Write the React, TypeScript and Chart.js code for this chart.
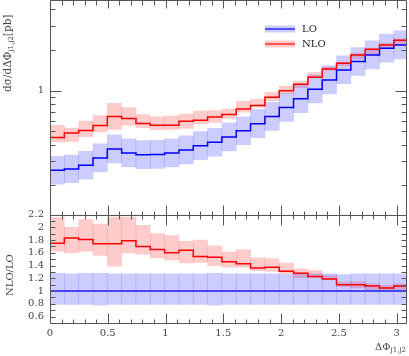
import React, { useEffect, useRef } from 'react';
import { Chart, registerables } from 'chart.js';
Chart.register(...registerables);

const binEdges = [0, 0.124, 0.248, 0.372, 0.496, 0.62, 0.744, 0.868, 0.992, 1.116, 1.24, 1.364, 1.488, 1.612, 1.736, 1.86, 1.984, 2.108, 2.232, 2.356, 2.48, 2.604, 2.728, 2.852, 2.976, 3.1];

const loValues = [0.258, 0.264, 0.281, 0.318, 0.371, 0.347, 0.337, 0.338, 0.347, 0.365, 0.392, 0.415, 0.454, 0.505, 0.569, 0.644, 0.750, 0.869, 1.024, 1.198, 1.420, 1.634, 1.830, 2.050, 2.168];
const loUp = [0.328, 0.335, 0.357, 0.404, 0.471, 0.441, 0.428, 0.429, 0.441, 0.464, 0.498, 0.527, 0.577, 0.641, 0.723, 0.818, 0.953, 1.104, 1.300, 1.521, 1.803, 2.075, 2.324, 2.604, 2.753];
const loDown = [0.204, 0.209, 0.222, 0.251, 0.293, 0.274, 0.266, 0.267, 0.274, 0.288, 0.310, 0.328, 0.359, 0.399, 0.450, 0.509, 0.593, 0.687, 0.809, 0.946, 1.122, 1.291, 1.446, 1.620, 1.713];

const nloValues = [0.451, 0.486, 0.508, 0.553, 0.644, 0.623, 0.572, 0.556, 0.556, 0.594, 0.605, 0.637, 0.666, 0.730, 0.776, 0.894, 0.995, 1.115, 1.254, 1.444, 1.591, 1.830, 2.016, 2.168, 2.349];
const nloUp = [0.554, 0.528, 0.596, 0.653, 0.804, 0.748, 0.665, 0.640, 0.648, 0.670, 0.706, 0.711, 0.731, 0.832, 0.865, 0.970, 1.078, 1.173, 1.355, 1.492, 1.619, 1.879, 2.040, 2.235, 2.417];
const nloDown = [0.419, 0.422, 0.457, 0.495, 0.516, 0.555, 0.532, 0.514, 0.517, 0.526, 0.568, 0.581, 0.624, 0.694, 0.753, 0.842, 0.953, 1.051, 1.238, 1.411, 1.524, 1.721, 1.848, 2.050, 2.211];

const ratioLO = [1, 1, 1, 1, 1, 1, 1, 1, 1, 1, 1, 1, 1, 1, 1, 1, 1, 1, 1, 1, 1, 1, 1, 1, 1];
const ratioLOUp = [1.28, 1.27, 1.28, 1.28, 1.27, 1.27, 1.27, 1.27, 1.27, 1.27, 1.27, 1.28, 1.27, 1.27, 1.27, 1.27, 1.26, 1.27, 1.27, 1.27, 1.26, 1.27, 1.27, 1.27, 1.27];
const ratioLODown = [0.79, 0.79, 0.79, 0.78, 0.79, 0.79, 0.79, 0.79, 0.79, 0.79, 0.79, 0.78, 0.79, 0.79, 0.79, 0.79, 0.79, 0.79, 0.79, 0.79, 0.79, 0.79, 0.79, 0.79, 0.79];

const ratioNLO = [1.75, 1.83, 1.81, 1.74, 1.74, 1.79, 1.70, 1.65, 1.60, 1.64, 1.54, 1.53, 1.46, 1.43, 1.36, 1.375, 1.31, 1.28, 1.23, 1.19, 1.10, 1.10, 1.08, 1.05, 1.08];
const ratioNLOUp = [2.15, 2.00, 2.12, 2.05, 2.16, 2.16, 2.03, 1.90, 1.87, 1.78, 1.80, 1.71, 1.61, 1.65, 1.52, 1.51, 1.44, 1.35, 1.32, 1.245, 1.14, 1.15, 1.115, 1.09, 1.115];
const ratioNLODown = [1.625, 1.60, 1.625, 1.56, 1.39, 1.60, 1.58, 1.52, 1.49, 1.44, 1.45, 1.40, 1.375, 1.375, 1.32, 1.31, 1.27, 1.21, 1.21, 1.18, 1.07, 1.05, 1.01, 1.00, 1.02];

const xTickLabels = [0, 0.5, 1, 1.5, 2, 2.5, 3];
const ratioTickLabels = [0.6, 0.8, 1, 1.2, 1.4, 1.6, 1.8, 2, 2.2];
const logTickLabels = [1];
const logMinorTicks = [0.2, 0.3, 0.4, 0.5, 0.6, 0.7, 0.8, 0.9, 2, 3, 4];
const legendLabels = ['LO', 'NLO'];

const FONT = 'DejaVu Serif';
const AXIS = '#555';
const TEXT = '#444';
const BLUE = 'rgb(0,0,255)';
const RED = 'rgb(255,0,0)';
const BLUE_BAND = 'rgba(0,0,255,0.2)';
const RED_BAND = 'rgba(255,0,0,0.2)';

const centers = binEdges.slice(0, -1).map((e, i) => (e + binEdges[i + 1]) / 2);
const stepPoints = (vals: number[]) => binEdges.map((e, i) => ({ x: e, y: vals[Math.min(i, vals.length - 1)] }));
const bandPoints = (lo: number[], hi: number[]) => centers.map((c, i) => ({ x: c, y: [lo[i], hi[i]] }));

const lineDs = (label: string, vals: number[], color: string, axis: string, order: number, width = 1.5) => ({
  type: 'line' as const,
  label,
  data: stepPoints(vals),
  yAxisID: axis,
  borderColor: color,
  borderWidth: width,
  stepped: true,
  pointRadius: 0,
  fill: false,
  order,
});
const bandDs = (label: string, lo: number[], hi: number[], color: string, axis: string, order: number) => ({
  type: 'bar' as const,
  label,
  data: bandPoints(lo, hi),
  yAxisID: axis,
  backgroundColor: color,
  borderWidth: 0,
  barPercentage: 1,
  categoryPercentage: 1,
  grouped: false,
  order,
});

const crisp = (v: number) => Math.round(v) + 0.5;

const zeroPad = (s: any) => {
  s.paddingTop = 0;
  s.paddingBottom = 0;
  s.paddingLeft = 0;
  s.paddingRight = 0;
};

const decorPlugin = {
  id: 'decor',
  afterDraw(chart: any) {
    const ctx = chart.ctx as CanvasRenderingContext2D;
    const x = chart.scales.x;
    const y = chart.scales.y;
    const yr = chart.scales.yr;
    const L = crisp(x.left), R = crisp(x.right) - 1;
    const T = Math.max(0.5, crisp(y.top) - 1), M = crisp(y.bottom), B = crisp(yr.bottom);
    ctx.save();
    ctx.strokeStyle = AXIS;
    ctx.lineWidth = 1;
    ctx.beginPath();
    ctx.rect(L, T, R - L, M - T);
    ctx.rect(L, M, R - L, B - M);
    ctx.stroke();

    const vline = (px: number, y0: number, y1: number) => { ctx.moveTo(crisp(px), y0); ctx.lineTo(crisp(px), y1); };
    const hline = (py: number, x0: number, x1: number) => { ctx.moveTo(x0, crisp(py)); ctx.lineTo(x1, crisp(py)); };
    ctx.beginPath();
    for (let k = 0; k <= 31; k++) {
      const v = k / 10;
      if (v > x.max) break;
      const px = x.getPixelForValue(v);
      const major = k % 5 === 0;
      vline(px, T, T + (major ? 8 : 5));
      vline(px, M - (major ? 10 : 4), M + (major ? 10 : 4));
      vline(px, B, B - (major ? 10 : 4));
    }
    for (const v of logTickLabels) {
      const py = y.getPixelForValue(v);
      hline(py, L, L + 11);
      hline(py, R, R - 11);
    }
    for (const v of logMinorTicks) {
      const py = y.getPixelForValue(v);
      hline(py, L, L + 5);
      hline(py, R, R - 5);
    }
    for (let k = 6; k <= 21; k++) {
      const py = yr.getPixelForValue(k / 10);
      hline(py, L, L + 5);
      hline(py, R, R - 5);
    }
    ctx.stroke();

    // legend
    const lx0 = 265, lx1 = 295;
    const entries = [
      { y: 29, band: BLUE_BAND, line: 'rgba(0,0,255,0.6)' },
      { y: 44, band: RED_BAND, line: 'rgba(255,0,0,0.6)' },
    ];
    entries.forEach((e, i) => {
      ctx.fillStyle = e.band;
      ctx.fillRect(lx0, e.y - 3.5, lx1 - lx0, 7);
      ctx.strokeStyle = e.line;
      ctx.lineWidth = 2;
      ctx.beginPath();
      ctx.moveTo(lx0, e.y);
      ctx.lineTo(lx1, e.y);
      ctx.stroke();
      ctx.fillStyle = '#222';
      ctx.font = `10px "${FONT}"`;
      ctx.textBaseline = 'middle';
      ctx.textAlign = 'left';
      ctx.fillText(legendLabels[i], 302, e.y);
    });

    ctx.fillStyle = TEXT;
    ctx.textBaseline = 'alphabetic';
    ctx.textAlign = 'left';
    const drawRich = (parts: { t: string; size: number; dy: number }[], x0: number, y0: number) => {
      let cx = x0;
      for (const p of parts) {
        ctx.font = `${p.size}px "${FONT}"`;
        ctx.fillText(p.t, cx, y0 + p.dy);
        cx += ctx.measureText(p.t).width;
      }
    };
    ctx.save();
    ctx.translate(11, 92);
    ctx.rotate(-Math.PI / 2);
    drawRich([
      { t: 'dσ/dΔΦ', size: 10.5, dy: 0 },
      { t: 'j1,j2', size: 7, dy: 2 },
      { t: '[pb]', size: 10.5, dy: 0 },
    ], 0, 0);
    ctx.restore();
    ctx.save();
    ctx.translate(13, 296);
    ctx.rotate(-Math.PI / 2);
    drawRich([{ t: 'NLO/LO', size: 10, dy: 0 }], 0, 0);
    ctx.restore();
    ctx.font = `10px "${FONT}"`;
    const w1 = ctx.measureText('ΔΦ').width;
    ctx.font = `7px "${FONT}"`;
    const w2 = ctx.measureText('j1,j2').width;
    drawRich([
      { t: 'ΔΦ', size: 10, dy: 0 },
      { t: 'j1,j2', size: 7, dy: 2 },
    ], 406 - w1 - w2, 350);
    ctx.restore();
  },
};

export default function App() {
  const ref = useRef<HTMLCanvasElement | null>(null);
  useEffect(() => {
    if (!ref.current) return;
    Chart.defaults.font.family = FONT;
    const tickFont = { family: FONT, size: 10 };
    const chart = new Chart(ref.current, {
      type: 'line',
      data: {
        datasets: [
          lineDs('NLO', nloValues, RED, 'y', 0),
          lineDs('LO', loValues, BLUE, 'y', 1),
          bandDs('LO band', loDown, loUp, BLUE_BAND, 'y', 2),
          bandDs('NLO band', nloDown, nloUp, RED_BAND, 'y', 3),
          lineDs('NLO/LO', ratioNLO, RED, 'yr', 0),
          lineDs('LO/LO', ratioLO, 'rgb(70,70,255)', 'yr', 1, 2),
          bandDs('LO/LO band', ratioLODown, ratioLOUp, BLUE_BAND, 'yr', 2),
          bandDs('NLO/LO band', ratioNLODown, ratioNLOUp, RED_BAND, 'yr', 3),
        ] as any,
      },
      options: {
        animation: false,
        responsive: false,
        devicePixelRatio: 1,
        events: [],
        layout: { padding: { left: 0, right: 2, top: 0, bottom: 0 } },
        plugins: { legend: { display: false }, tooltip: { enabled: false } },
        scales: {
          x: {
            type: 'linear',
            min: 0,
            max: 3.09,
            offset: false,
            position: 'bottom',
            grid: { display: false, drawTicks: false },
            border: { display: false },
            ticks: { font: tickFont, color: TEXT, padding: 4, maxRotation: 0, autoSkip: false, callback: (v: any) => String(v) },
            afterBuildTicks: (s: any) => { s.ticks = xTickLabels.map((v) => ({ value: v })); },
            afterFit: (s: any) => { s.height = 33; zeroPad(s); },
          },
          yr: {
            type: 'linear',
            position: 'left',
            stack: 'panels',
            stackWeight: 1,
            min: 0.5,
            max: 2.2,
            grid: { display: false, drawTicks: false },
            border: { display: false },
            ticks: { font: tickFont, color: TEXT, padding: 6, autoSkip: false, callback: (v: any) => String(v) },
            afterBuildTicks: (s: any) => { s.ticks = ratioTickLabels.map((v) => ({ value: v })); },
            afterFit: (s: any) => { s.width = 50; zeroPad(s); },
          },
          y: {
            type: 'logarithmic',
            position: 'left',
            stack: 'panels',
            stackWeight: 1.977,
            min: 0.122,
            max: 4.65,
            grid: { display: false, drawTicks: false },
            border: { display: false },
            ticks: { font: tickFont, color: TEXT, padding: 6, autoSkip: false, callback: (v: any) => String(v) },
            afterBuildTicks: (s: any) => { s.ticks = logTickLabels.map((v) => ({ value: v })); },
            afterFit: (s: any) => { s.width = 50; zeroPad(s); },
          },
        } as any,
      },
      plugins: [decorPlugin],
    });
    return () => chart.destroy();
  }, []);
  return (
    <div style={{ position: 'absolute', left: 0, top: 0, width: 409, height: 356, background: '#fff' }}>
      <canvas ref={ref} width={409} height={356} style={{ display: 'block', width: 409, height: 356 }} />
    </div>
  );
}
